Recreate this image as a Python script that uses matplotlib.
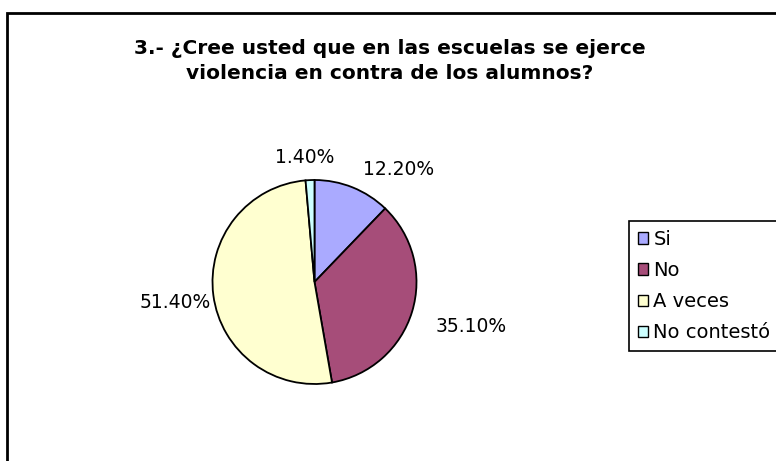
import matplotlib
matplotlib.use("Agg")
import matplotlib.pyplot as plt
from matplotlib.patches import Rectangle, Patch

categories = ["Si", "No", "A veces", "No contestó"]
values = [12.2, 35.1, 51.4, 1.4]
value_labels = ["12.20%", "35.10%", "51.40%", "1.40%"]
colors = ["#AAAAFF", "#A64D79", "#FFFFD0", "#CCFFFF"]
title = "3.- ¿Cree usted que en las escuelas se ejerce\nviolencia en contra de los alumnos?"

W, H = 776, 461
fig = plt.figure(figsize=(W / 100, H / 100), dpi=100)

# outer frame
fig.patches.append(Rectangle((7 / W, -0.05), 1.0, (H - 13) / H + 0.05,
                             transform=fig.transFigure, fill=False,
                             edgecolor="black", linewidth=2))

cx, cy, r = 314.5, H - 282, 102
ax = fig.add_axes([(cx - r) / W, (cy - r) / H, 2 * r / W, 2 * r / H])

wedges, texts = ax.pie(values, colors=colors, startangle=90, counterclock=False,
                       radius=1, labels=value_labels,
                       wedgeprops=dict(edgecolor="black", linewidth=1.3),
                       textprops=dict(fontsize=13.5))
ax.set_xlim(-1, 1)
ax.set_ylim(-1, 1)
ax.axis("off")
label_pos = [(0.82, 1.10), (1.54, -0.44), (-1.37, -0.20), (-0.10, 1.22)]
for t, p in zip(texts, label_pos):
    t.set_position(p)
    t.set_ha("center")
    t.set_va("center")

fig.text(390 / W, 1 - 61 / H, title, ha="center", va="center",
         fontsize=14.5, fontweight="bold", linespacing=1.45)

handles = [Patch(facecolor=c, edgecolor="black", linewidth=1) for c in colors]
leg = fig.legend(handles, categories, loc="upper left",
                 bbox_to_anchor=(629 / W, 1 - 221 / H),
                 fontsize=14, frameon=True, fancybox=False, framealpha=1,
                 edgecolor="black", handlelength=0.55, handleheight=0.55,
                 handletextpad=0.25, labelspacing=0.63, borderpad=0.45,
                 borderaxespad=0)
leg.get_frame().set_linewidth(1.2)

fig.savefig("out.png", dpi=100)
